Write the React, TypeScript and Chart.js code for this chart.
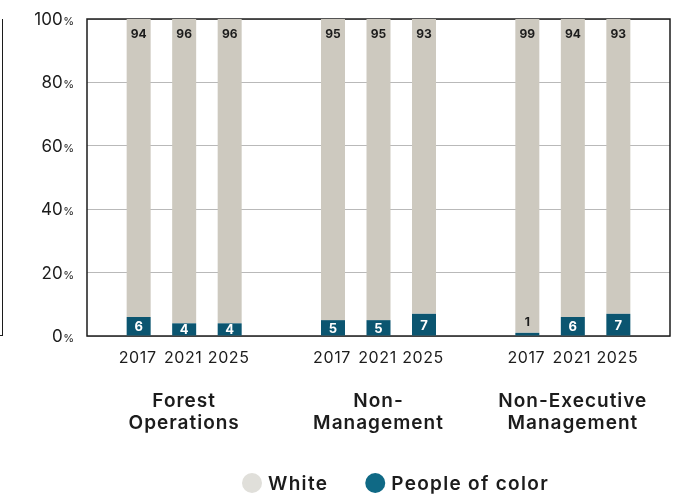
import React, { useEffect, useRef } from "react";
import { Chart, registerables } from "chart.js";

Chart.register(...registerables);

const groups = [["Forest", "Operations"], ["Non-", "Management"], ["Non-Executive", "Management"]];
const years = ["2017", "2021", "2025"];
const white2017 = [94, 95, 99];
const white2021 = [96, 95, 94];
const white2025 = [96, 93, 93];
const poc2017 = [6, 5, 1];
const poc2021 = [4, 5, 6];
const poc2025 = [4, 7, 7];
const yTicks = [0, 20, 40, 60, 80, 100];
const legendLabels = ["White", "People of color"];

const FONT = "Inter, 'Noto Sans', sans-serif";
const GRAY_BAR = "#cdc9bf";
const TEAL_BAR = "#0b5570";
const GRAY_LEGEND = "#e0dfda";
const TEAL_LEGEND = "#0f6985";
const INK = "#1c1c1c";

const W = 684;
const H = 496;
const PLOT_TOP = 19;
const PLOT_BOTTOM = 336;
const PLOT_LEFT = 87;
const PLOT_RIGHT = 670;

const whiteSeries = [white2017, white2021, white2025];
const pocSeries = [poc2017, poc2021, poc2025];

const decor = {
  id: "decor",
  beforeDraw(chart: any) {
    (chart.ctx as any).letterSpacing = "1px";
  },
  beforeDatasetsDraw(chart: any) {
    const { ctx, chartArea: a } = chart;
    ctx.save();
    ctx.strokeStyle = INK;
    ctx.lineWidth = 1.5;
    ctx.strokeRect(a.left, a.top, a.right - a.left, a.bottom - a.top);
    ctx.restore();
  },
  afterDatasetsDraw(chart: any) {
    const { ctx } = chart;
    ctx.save();
    ctx.letterSpacing = "0px";
    // data labels
    chart.data.datasets.forEach((ds: any, di: number) => {
      const meta = chart.getDatasetMeta(di);
      meta.data.forEach((bar: any, i: number) => {
        const v = ds.data[i];
        const top = Math.min(bar.y, bar.base);
        const bottom = Math.max(bar.y, bar.base);
        ctx.textAlign = "center";
        ctx.textBaseline = "middle";
        if (ds.kind === "white") {
          ctx.font = `700 12px ${FONT}`;
          ctx.fillStyle = INK;
          ctx.fillText(String(v), bar.x, top + 15);
        } else {
          const h = bottom - top;
          ctx.font = `700 13px ${FONT}`;
          if (h < 12) {
            ctx.fillStyle = INK;
            ctx.font = `700 12px ${FONT}`;
            ctx.fillText(String(v), bar.x, top - 10);
          } else {
            ctx.fillStyle = "#ffffff";
            ctx.fillText(String(v), bar.x, (top + bottom) / 2 + 1);
          }
        }
      });
    });
    // year labels under each bar
    ctx.letterSpacing = "0.6px";
    chart.data.datasets.forEach((ds: any, di: number) => {
      if (ds.kind !== "poc") return;
      const meta = chart.getDatasetMeta(di);
      meta.data.forEach((bar: any) => {
        ctx.font = `400 16px ${FONT}`;
        ctx.fillStyle = INK;
        ctx.textAlign = "center";
        ctx.textBaseline = "middle";
        ctx.fillText(years[ds.yearIndex], bar.x - 1, 358);
      });
    });
    ctx.restore();
  },
  afterDraw(chart: any) {
    const { ctx } = chart;
    const ys = chart.scales.y;
    ctx.save();
    ctx.letterSpacing = "0px";
    // y tick labels with small percent sign
    const right = 74;
    yTicks.forEach((t) => {
      const py = ys.getPixelForValue(t);
      ctx.textBaseline = "alphabetic";
      ctx.textAlign = "right";
      ctx.fillStyle = INK;
      ctx.font = `400 11px ${FONT}`;
      const pw = ctx.measureText("%").width;
      ctx.fillText("%", right, py + 6);
      ctx.font = `400 17px ${FONT}`;
      ctx.fillText(String(t), right - pw - 0.5, py + 6);
    });
    // legend
    const colors = [GRAY_LEGEND, TEAL_LEGEND];
    let x = 242;
    const cy = 483;
    const r = 10;
    ctx.letterSpacing = "1.3px";
    ctx.font = `600 19px ${FONT}`;
    ctx.textAlign = "left";
    ctx.textBaseline = "middle";
    legendLabels.forEach((lab, i) => {
      ctx.beginPath();
      ctx.fillStyle = colors[i];
      ctx.arc(x + r, cy, r, 0, Math.PI * 2);
      ctx.fill();
      ctx.fillStyle = INK;
      const tx = x + 2 * r + 6;
      ctx.fillText(lab, tx, cy + 1);
      x = tx + ctx.measureText(lab).width + 37;
    });
    ctx.restore();
    (ctx as any).letterSpacing = "0px";
  },
};

export default function App() {
  const ref = useRef<HTMLCanvasElement | null>(null);

  useEffect(() => {
    if (!ref.current) return;
    const datasets: any[] = [];
    years.forEach((_, k) => {
      datasets.push({
        label: "People of color",
        kind: "poc",
        yearIndex: k,
        stack: "y" + k,
        data: pocSeries[k],
        backgroundColor: TEAL_BAR,
        borderWidth: 0,
      });
      datasets.push({
        label: "White",
        kind: "white",
        yearIndex: k,
        stack: "y" + k,
        data: whiteSeries[k],
        backgroundColor: GRAY_BAR,
        borderWidth: 0,
      });
    });

    const chart = new Chart(ref.current, {
      type: "bar",
      data: { labels: groups as any, datasets },
      options: {
        animation: false,
        responsive: false,
        devicePixelRatio: 1,
        datasets: { bar: { categoryPercentage: 0.7025, barPercentage: 0.5275 } } as any,
        layout: { padding: { top: PLOT_TOP, right: W - PLOT_RIGHT, left: 0, bottom: 0 } },
        plugins: {
          legend: { display: false },
          tooltip: { enabled: false },
        },
        scales: {
          x: {
            stacked: true,
            grid: { display: false, drawTicks: false },
            border: { display: false },
            ticks: {
              color: INK,
              font: { family: FONT, size: 19, weight: "600" as any, lineHeight: 1.18 },
              padding: 54,
              maxRotation: 0,
              autoSkip: false,
            },
            afterFit: (s: any) => {
              s.height = H - PLOT_BOTTOM;
              s.paddingLeft = 0;
              s.paddingRight = 0;
            },
          },
          y: {
            stacked: true,
            min: 0,
            max: 100,
            ticks: { display: false, stepSize: 20 },
            grid: { color: "#b9b9b9", lineWidth: 1, drawTicks: false },
            border: { display: false },
            afterFit: (s: any) => {
              s.width = PLOT_LEFT;
            },
          },
        },
      },
      plugins: [decor],
    });
    return () => chart.destroy();
  }, []);

  return (
    <div style={{ position: "absolute", left: 0, top: 0, width: W, height: H, background: "#fff" }}>
      <div
        style={{
          position: "absolute",
          left: 0,
          top: PLOT_TOP,
          width: 2,
          height: PLOT_BOTTOM - PLOT_TOP - 1,
          borderRight: `1.5px solid ${INK}`,
          borderBottom: `1.5px solid ${INK}`,
        }}
      />
      <canvas ref={ref} width={W} height={H} style={{ display: "block", width: W, height: H }} />
    </div>
  );
}
